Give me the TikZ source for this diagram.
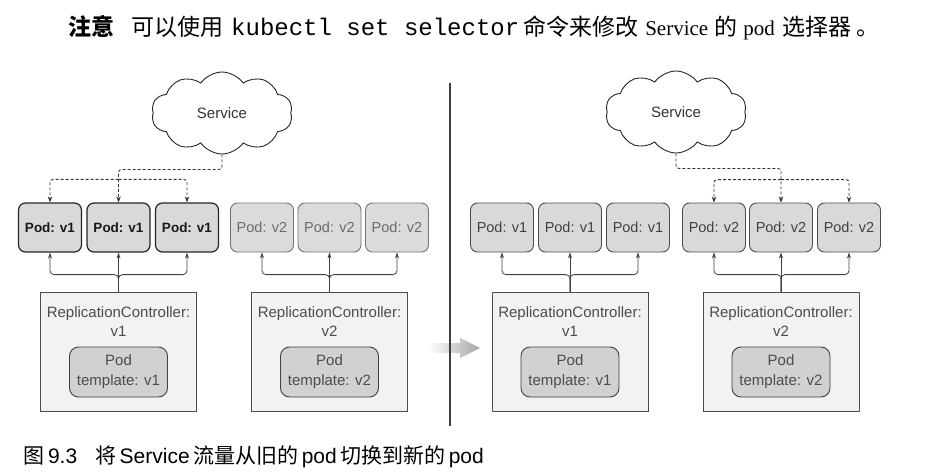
\documentclass[tikz,border=0pt]{standalone}
\usepackage{fontspec}
\setmainfont{Liberation Sans}
\setmonofont{Liberation Mono}
\newfontfamily\cjk{Noto Sans CJK SC}
\newfontfamily\rmlat{Liberation Serif}
\usetikzlibrary{shapes.symbols,arrows.meta,positioning}

\tikzset{
  pod/.style={draw=black!70, fill=black!15, rounded corners=7pt, minimum width=63pt, minimum height=49pt,
    inner sep=0pt, line width=0.9pt, text=black!75, font=\fontsize{14.5}{17}\selectfont},
  podold/.style={pod, draw=black!85, line width=1.2pt, text=black!90, font=\fontsize{13.5}{17}\selectfont\bfseries},
  podnew/.style={pod, draw=black!55, text=black!58, fill=black!14},
  svc/.style={cloud, cloud puffs=10, cloud puff arc=110, cloud ignores aspect, draw=black!85, line width=0.9pt, fill=white,
    minimum width=141pt, minimum height=82pt, inner sep=0pt, text=black!80, font=\fontsize{15}{18}\selectfont},
  rcbox/.style={draw=black!70, fill=black!5, minimum width=156pt, minimum height=119pt, line width=0.8pt},
  rctext/.style={align=center, inner sep=0pt, text=black!70, font=\fontsize{15}{19}\selectfont},
  tplbox/.style={draw=black!75, fill=black!18, rounded corners=9pt, minimum width=98pt, minimum height=50pt,
    align=center, inner sep=0pt, line width=0.9pt, text=black!70, font=\fontsize{15}{20}\selectfont},
  selline/.style={draw=black!80, line width=0.9pt, dash pattern=on 3pt off 2pt, rounded corners=3pt,
    -{Stealth[length=6pt,width=4.5pt]}},
  ctrlline/.style={draw=black!75, line width=0.8pt, rounded corners=4pt, -{Stealth[length=6pt,width=4pt]}}
}

\begin{document}
\begin{tikzpicture}[x=1pt,y=-1pt]
\useasboundingbox (0,0) rectangle (928,476);
\node [font=\fontsize{23}{26}\selectfont] (note) at (474,28) {{\cjk\bfseries 注意}\hspace{17pt}{\cjk 可以使用}\hspace{8pt}{\fontsize{24}{26}\selectfont\texttt{kubectl set selector}}\hspace{4pt}{\cjk 命令来修改}\hspace{7pt}{\rmlat\fontsize{21}{26}\selectfont Service}\hspace{6pt}{\cjk 的}\hspace{6pt}{\rmlat\fontsize{21}{26}\selectfont pod}\hspace{8pt}{\cjk 选择器}\hspace{5pt}{\cjk 。}};
\shade [left color=white, right color=black!35] (428,343) -- (460,343) -- (460,338) -- (480,348) -- (460,358) -- (460,353) -- (428,353) -- cycle;
\draw [black!75, line width=1.1pt] (450,83) -- (450,426);
\node [svc] (srvL) at (222,113) {Service};
\node [podold] (pL1) at (50,227.5) {Pod: v1};
\node [podold] (pL2) at (118.5,227.5) {Pod: v1};
\node [podold] (pL3) at (187,227.5) {Pod: v1};
\node [podnew] (pL4) at (262,227.5) {Pod: v2};
\node [podnew] (pL5) at (329.5,227.5) {Pod: v2};
\node [podnew] (pL6) at (397,227.5) {Pod: v2};
\node [rcbox] (rcL1) at (118.5,351.5) {};
\node [rctext, below=15pt of rcL1.north] (rcL1t) {ReplicationController:\\v1};
\node [tplbox] (tplL1) at (118.5,372) {Pod\\template: v1};
\node [rcbox] (rcL2) at (329.5,351.5) {};
\node [rctext, below=15pt of rcL2.north] (rcL2t) {ReplicationController:\\v2};
\node [tplbox] (tplL2) at (329.5,372) {Pod\\template: v2};
\draw [selline] (srvL.south) -- ++(0,15) -| (pL2.north);
\draw [selline] (pL2.north) ++(0,-23) -| (pL1.north);
\draw [selline] (pL2.north) ++(0,-23) -| (pL3.north);
\draw [ctrlline] (rcL1.north) -- (pL2.south);
\draw [ctrlline] (rcL1.north) -- ++(0,-17) -| (pL1.south);
\draw [ctrlline] (rcL1.north) -- ++(0,-17) -| (pL3.south);
\draw [ctrlline] (rcL2.north) -- (pL5.south);
\draw [ctrlline] (rcL2.north) -- ++(0,-17) -| (pL4.south);
\draw [ctrlline] (rcL2.north) -- ++(0,-17) -| (pL6.south);
\node [svc] (srvR) at (676,112) {Service};
\node [pod] (pR1) at (502,227.5) {Pod: v1};
\node [pod] (pR2) at (570,227.5) {Pod: v1};
\node [pod] (pR3) at (638,227.5) {Pod: v1};
\node [pod] (pR4) at (714,227.5) {Pod: v2};
\node [pod] (pR5) at (781,227.5) {Pod: v2};
\node [pod] (pR6) at (849,227.5) {Pod: v2};
\node [rcbox] (rcR1) at (570,351.5) {};
\node [rctext, below=15pt of rcR1.north] (rcR1t) {ReplicationController:\\v1};
\node [tplbox] (tplR1) at (570,372) {Pod\\template: v1};
\node [rcbox] (rcR2) at (781,351.5) {};
\node [rctext, below=15pt of rcR2.north] (rcR2t) {ReplicationController:\\v2};
\node [tplbox] (tplR2) at (781,372) {Pod\\template: v2};
\draw [selline] (srvR.south) -- ++(0,15) -| (pR5.north);
\draw [selline] (pR5.north) ++(0,-23) -| (pR4.north);
\draw [selline] (pR5.north) ++(0,-23) -| (pR6.north);
\draw [ctrlline] (rcR1.north) -- (pR2.south);
\draw [ctrlline] (rcR1.north) -- ++(0,-17) -| (pR1.south);
\draw [ctrlline] (rcR1.north) -- ++(0,-17) -| (pR3.south);
\draw [ctrlline] (rcR2.north) -- (pR5.south);
\draw [ctrlline] (rcR2.north) -- ++(0,-17) -| (pR4.south);
\draw [ctrlline] (rcR2.north) -- ++(0,-17) -| (pR6.south);
\node [anchor=west, font=\fontsize{21}{24}\selectfont] (caption) at (20,457) {{\cjk 图}\,9.3\hspace{18pt}{\cjk 将}\,Service\,{\cjk 流量从旧的}\,pod\,{\cjk 切换到新的}\,pod};
\end{tikzpicture}
\end{document}
